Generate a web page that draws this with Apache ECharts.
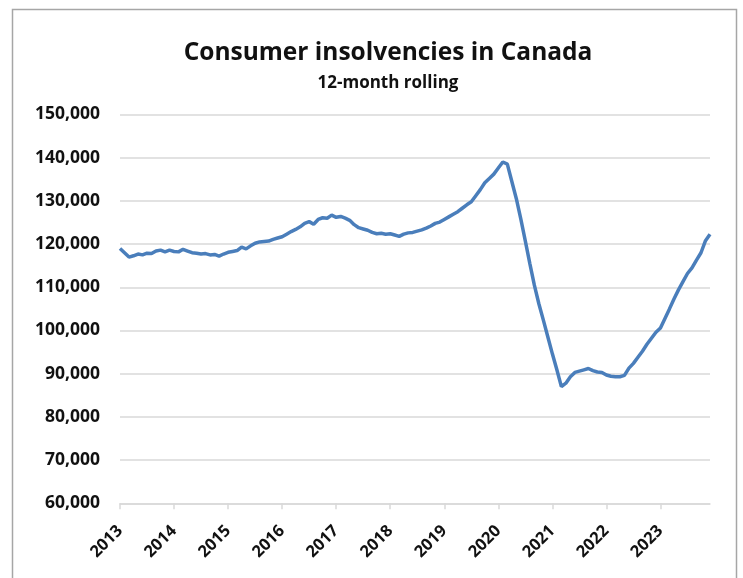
<!DOCTYPE html>
<html>
<head>
<meta charset="utf-8">
<script src="https://cdn.jsdelivr.net/npm/echarts@6/dist/echarts.min.js"></script>
<style>
  html, body { margin: 0; padding: 0; background: #ffffff; }
  #chart { width: 743px; height: 578px; }
</style>
</head>
<body>
<div id="chart"></div>
<script>
// Year tick labels on the horizontal axis
const years = ['2013', '2014', '2015', '2016', '2017', '2018', '2019', '2020', '2021', '2022', '2023'];

// Consumer insolvencies, 12-month rolling total, one value per month (Jan..Dec)
const rolling2013 = [119000, 118000, 117000, 117300, 117700, 117500, 117900, 117800, 118400, 118600, 118200, 118600];
const rolling2014 = [118300, 118200, 118800, 118400, 118000, 117900, 117700, 117800, 117500, 117600, 117200, 117700];
const rolling2015 = [118100, 118300, 118500, 119300, 118900, 119600, 120200, 120500, 120600, 120700, 121100, 121400];
const rolling2016 = [121700, 122300, 122900, 123400, 124000, 124800, 125200, 124600, 125700, 126100, 126000, 126700];
const rolling2017 = [126200, 126400, 126000, 125500, 124500, 123800, 123500, 123200, 122700, 122400, 122500, 122300];
const rolling2018 = [122400, 122100, 121800, 122300, 122600, 122700, 123000, 123300, 123700, 124200, 124800, 125100];
const rolling2019 = [125700, 126300, 126900, 127500, 128300, 129100, 129800, 131200, 132600, 134200, 135200, 136200];
const rolling2020 = [137600, 139000, 138500, 134500, 130500, 125800, 120700, 115500, 110500, 106200, 102400, 98500];
const rolling2021 = [94600, 90900, 87000, 87800, 89300, 90300, 90600, 90900, 91200, 90700, 90400, 90300];
const rolling2022 = [89700, 89400, 89300, 89300, 89600, 91300, 92400, 93800, 95200, 96800, 98200, 99600];
const rolling2023 = [100600, 102800, 105000, 107300, 109400, 111300, 113200, 114500, 116300, 118000, 120800, 122300];

// Y-axis range and step
const yMin = 60000;
const yMax = 150000;
const yStep = 10000;

const yearlyValues = [rolling2013, rolling2014, rolling2015, rolling2016, rolling2017, rolling2018,
                      rolling2019, rolling2020, rolling2021, rolling2022, rolling2023];

// Monthly categories: "2013-01" ... "2023-12"
const months = [];
const values = [];
years.forEach((y, i) => {
  yearlyValues[i].forEach((v, m) => {
    months.push(y + '-' + String(m + 1).padStart(2, '0'));
    values.push(v);
  });
});

const chart = echarts.init(document.getElementById('chart'), null, { renderer: 'canvas' });

const FONT = '"Open Sans", "Noto Sans", sans-serif';

chart.setOption({
  backgroundColor: '#ffffff',
  animation: false,
  title: {
    text: 'Consumer insolvencies in Canada',
    subtext: '12-month rolling',
    left: 383,
    textAlign: 'center',
    top: 36,
    itemGap: 9,
    textStyle: { fontFamily: FONT, fontSize: 24.5, fontWeight: 'bold', color: '#111111' },
    subtextStyle: { fontFamily: FONT, fontSize: 17, fontWeight: 'bold', color: '#111111' }
  },
  graphic: [{
    type: 'rect',
    silent: true,
    shape: { x: 12.5, y: 9.5, width: 724, height: 600 },
    style: { fill: 'none', stroke: '#a6a6a6', lineWidth: 1.5 }
  }],
  grid: { left: 120, right: 33, top: 114.5, bottom: 74.7 },
  xAxis: {
    type: 'category',
    data: months,
    boundaryGap: false,
    axisLine: { lineStyle: { color: '#d9d9d9', width: 1.5 } },
    axisTick: { show: true, interval: 11, length: 6, lineStyle: { color: '#d9d9d9', width: 1.5 } },
    axisLabel: {
      interval: 11,
      rotate: 45,
      margin: 25,
      fontFamily: FONT,
      fontSize: 16.5,
      fontWeight: 'bold',
      color: '#111111',
      formatter: (v) => v.slice(0, 4)
    },
    splitLine: { show: false }
  },
  yAxis: {
    type: 'value',
    min: yMin,
    max: yMax,
    interval: yStep,
    axisLine: { show: false },
    axisTick: { show: false },
    axisLabel: {
      margin: 20,
      fontFamily: FONT,
      fontSize: 17.5,
      fontWeight: 'bold',
      color: '#111111',
      formatter: (v) => v.toLocaleString('en-US')
    },
    splitLine: { lineStyle: { color: '#d9d9d9', width: 1.5 } }
  },
  series: [{
    type: 'line',
    data: values,
    showSymbol: false,
    symbol: 'none',
    lineStyle: { color: '#4a7ebb', width: 3.5 },
    itemStyle: { color: '#4a7ebb' }
  }]
});
</script>
</body>
</html>
